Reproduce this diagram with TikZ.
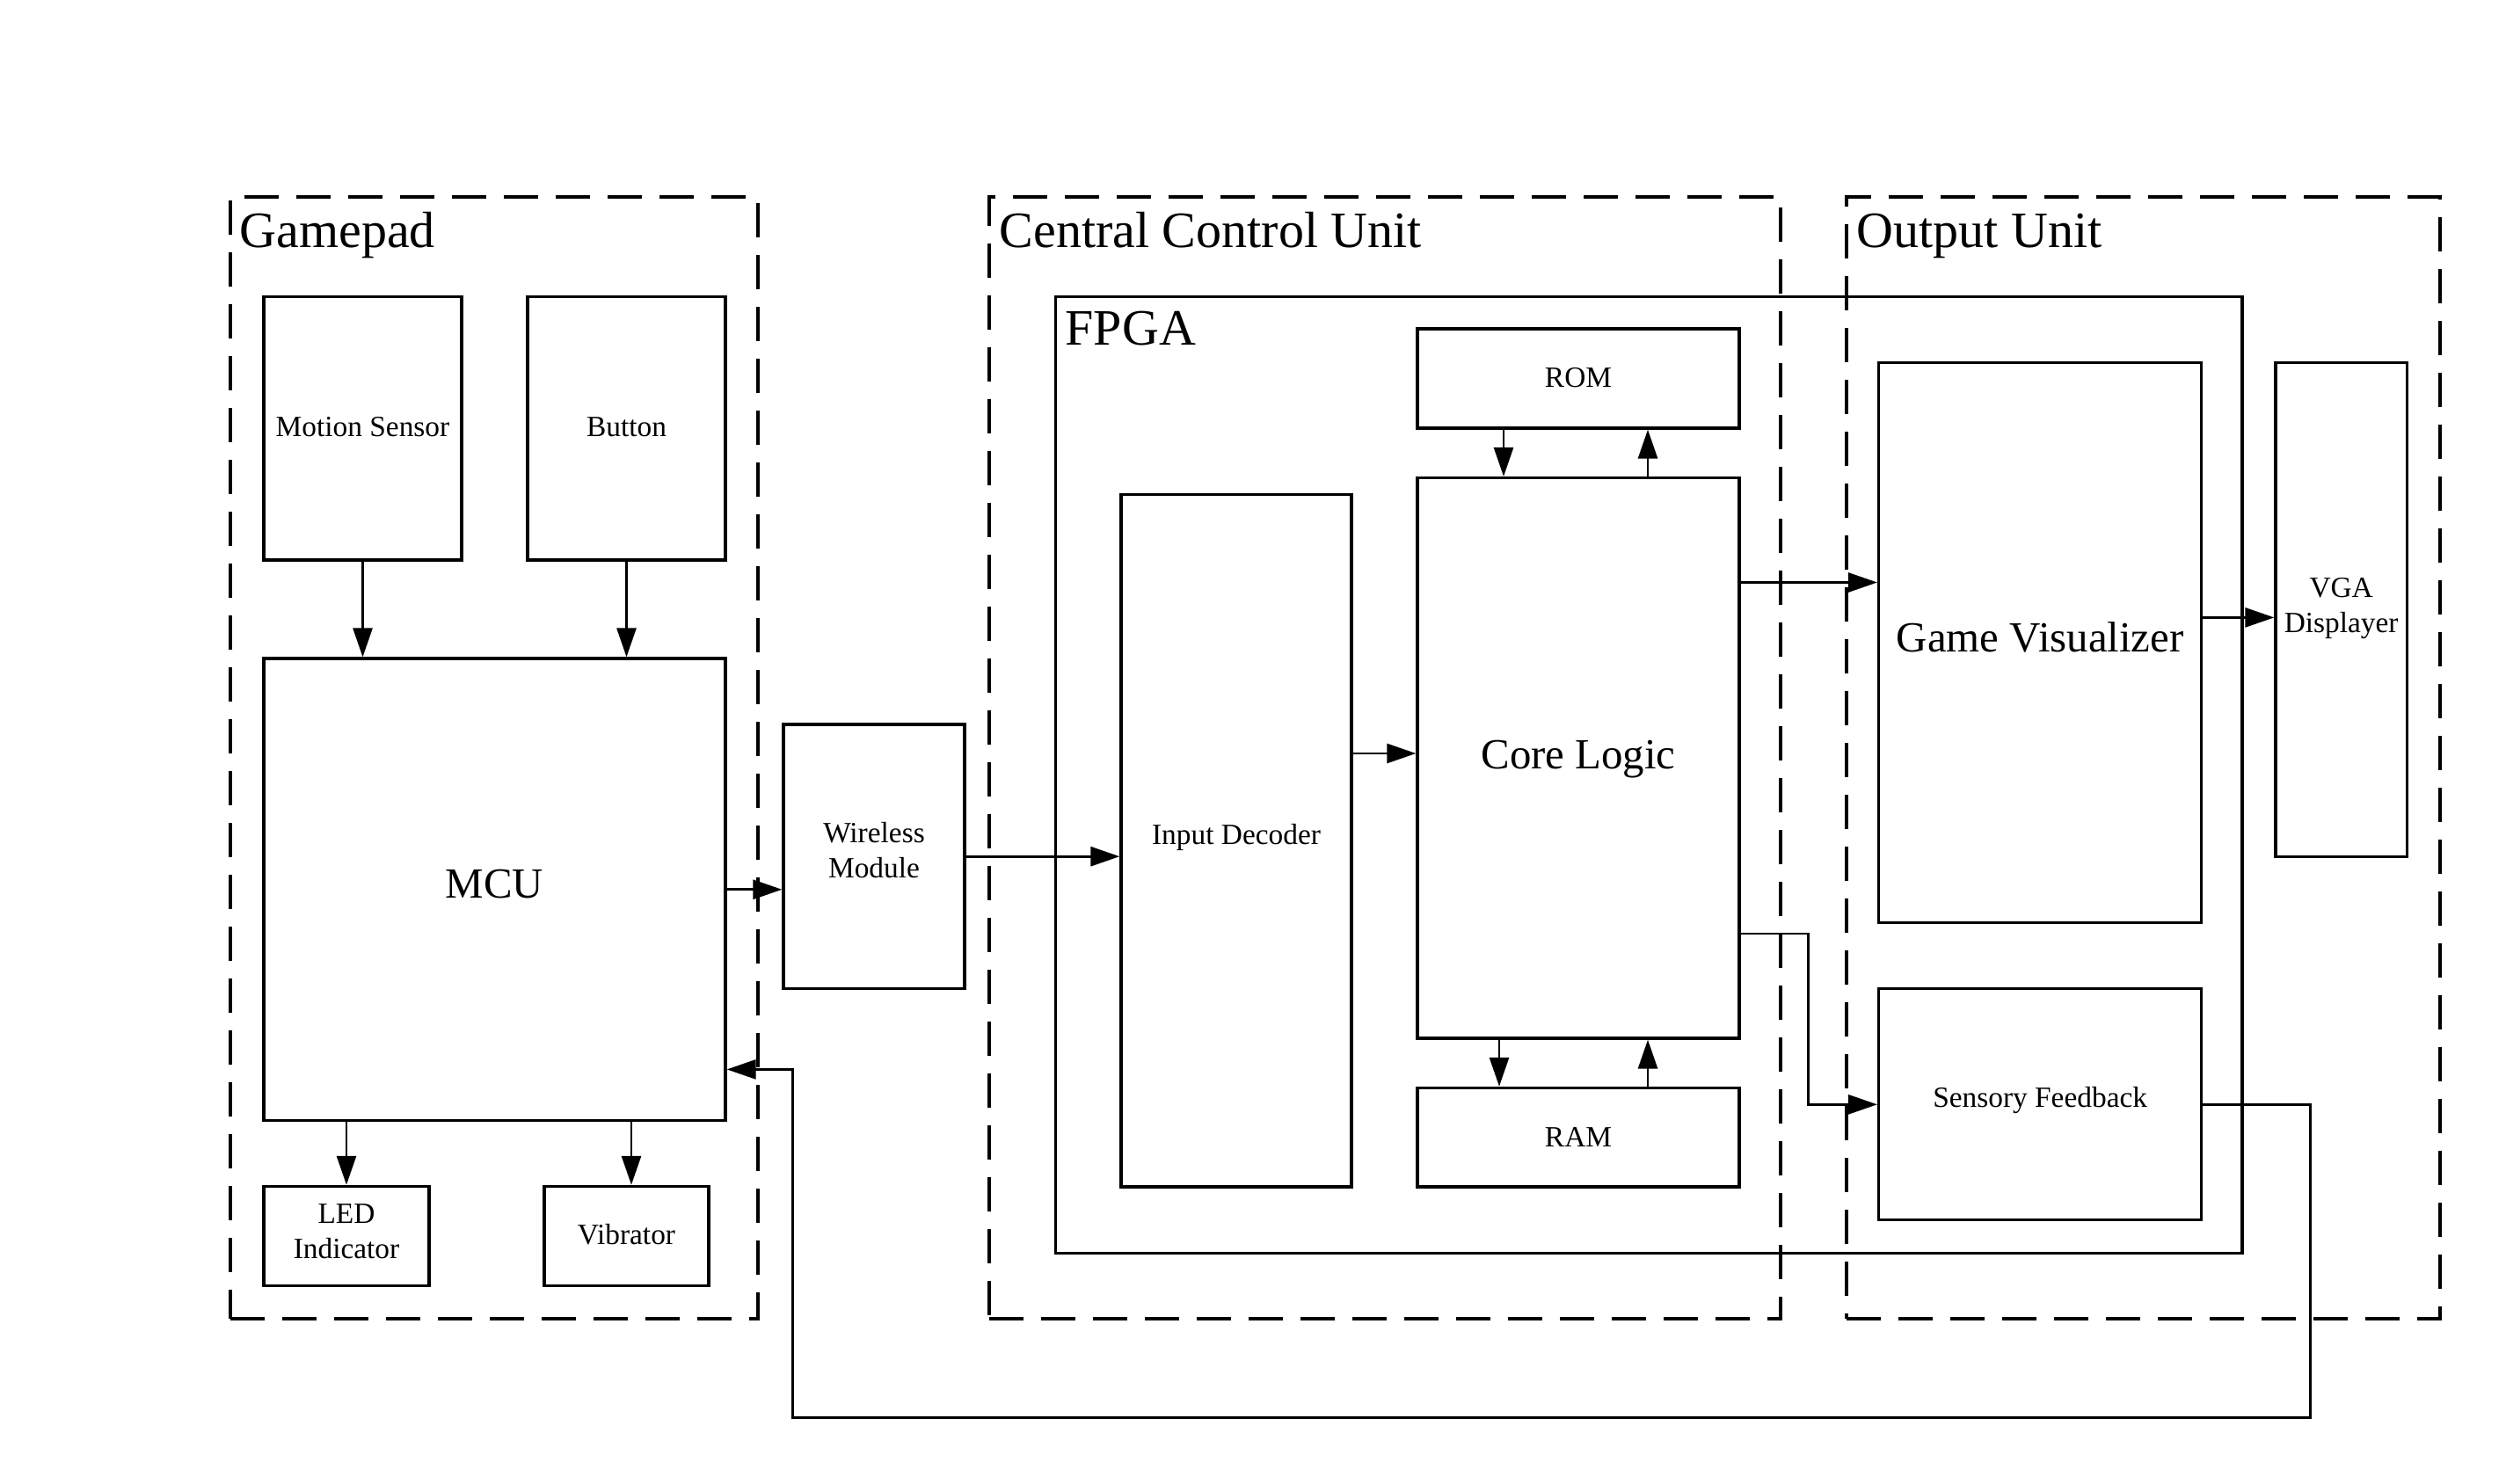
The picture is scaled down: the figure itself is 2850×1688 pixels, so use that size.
\documentclass[tikz,border=0pt]{standalone}
\usepackage{fontspec}
\setmainfont{Liberation Serif}
\usetikzlibrary{arrows.meta,fit}
\begin{document}
\begin{tikzpicture}[x=0.1mm,y=-0.1mm,
  box/.style={draw, line width=0.33mm, inner sep=0pt},
  txt/.style={anchor=base, inner sep=0pt, align=center, font=\fontsize{9.5}{11.4}\selectfont},
  bigtxt/.style={anchor=base, inner sep=0pt, font=\fontsize{13.9}{16.7}\selectfont},
  group/.style={draw, line width=0.4mm, dash pattern=on 3.9mm off 2mm, inner sep=0pt},
  title/.style={anchor=base west, inner sep=0pt, font=\fontsize{16.5}{19.8}\selectfont},
  arr/.style={line width=0.28mm, -{Triangle[length=3.3mm,width=2.2mm]}}]
\useasboundingbox (0,0) rectangle (2850,1688);
% groups
\node[group, fit={(262,224.4) (861.5,1499.5)}] (gp) {};
\node[group, fit={(1125,224.4) (2024.8,1499.5)}] (ccu) {};
\node[group, fit={(2100,224.4) (2774.5,1499.5)}] (ou) {};
\node[title] (gpt) at (272,282) {Gamepad};
\node[title] (ccut) at (1136,282) {Central Control Unit};
\node[title] (out) at (2111,282) {Output Unit};
% FPGA
\node[box, fit={(1200.5,337.5) (2550,1425.3)}] (fpga) {};
\node[title] (fpgat) at (1211,393) {FPGA};
% boxes
\node[box, fit={(300,337.5) (525,637)}] (ms) {};
\node[box, fit={(600,337.5) (825,637)}] (btn) {};
\node[box, fit={(300,749) (825,1274.6)}] (mcu) {};
\node[box, fit={(300,1349.4) (488,1462.4)}] (led) {};
\node[box, fit={(619,1349.4) (806,1462.4)}] (vib) {};
\node[box, fit={(891,824) (1097,1124.4)}] (wm) {};
\node[box, fit={(1275,562.4) (1537,1350)}] (id) {};
\node[box, fit={(1612,374) (1978,487)}] (rom) {};
\node[box, fit={(1612,543.6) (1978,1181)}] (core) {};
\node[box, fit={(1612,1237.4) (1978,1350)}] (ram) {};
\node[box, fit={(2136.6,412.8) (2503.7,1049.6)}] (gv) {};
\node[box, fit={(2136.6,1124.4) (2503.7,1387.6)}] (sf) {};
\node[box, fit={(2588,412.8) (2737.3,974.8)}] (vga) {};
% labels (baselines; last line for two-line labels)
\coordinate (b-ms) at (0,496.5);
\coordinate (b-mcu) at (0,1021);
\coordinate (b-led) at (0,1431.7);
\coordinate (b-vib) at (0,1415);
\coordinate (b-wm) at (0,998.3);
\coordinate (b-id) at (0,960);
\coordinate (b-rom) at (0,440.7);
\coordinate (b-core) at (0,874);
\coordinate (b-ram) at (0,1304);
\coordinate (b-gv) at (0,741.7);
\coordinate (b-sf) at (0,1259);
\coordinate (b-vga) at (0,719.3);
\node[txt] (ms-t) at (ms.center |- b-ms) {Motion Sensor};
\node[txt] (btn-t) at (btn.center |- b-ms) {Button};
\node[bigtxt] (mcu-t) at (mcu.center |- b-mcu) {MCU};
\node[txt] (led-t) at (led.center |- b-led) {LED\\Indicator};
\node[txt] (vib-t) at (vib.center |- b-vib) {Vibrator};
\node[txt] (wm-t) at (wm.center |- b-wm) {Wireless\\Module};
\node[txt] (id-t) at (id.center |- b-id) {Input Decoder};
\node[txt] (rom-t) at (rom.center |- b-rom) {ROM};
\node[bigtxt] (core-t) at (core.center |- b-core) {Core Logic};
\node[txt] (ram-t) at (ram.center |- b-ram) {RAM};
\node[bigtxt] (gv-t) at (gv.center |- b-gv) {Game Visualizer};
\node[txt] (sf-t) at (sf.center |- b-sf) {Sensory Feedback};
\node[txt] (vga-t) at (vga.center |- b-vga) {VGA\\Displayer};
% helper coordinates
\coordinate (xvib) at (718,0);
\coordinate (xromd) at (1710,0);
\coordinate (xup) at (1874,0);
\coordinate (xramd) at (1705,0);
\coordinate (yid) at (0,857);
\coordinate (ygv) at (0,662.5);
\coordinate (yvga) at (0,702.4);
\coordinate (ysf) at (0,1062);
\coordinate (c1) at (2056.6,1062);
\coordinate (c2) at (2056.6,1256.3);
\coordinate (f1) at (2627.3,1256.3);
\coordinate (f2) at (2627.3,1612.6);
\coordinate (f3) at (901.5,1612.6);
\coordinate (f4) at (901.5,1216.4);
% connectors
\draw[arr] (ms.south) -- (ms.south |- mcu.north);
\draw[arr] (btn.south) -- (btn.south |- mcu.north);
\draw[arr] (mcu.south -| led.north) -- (led.north);
\draw[arr] (mcu.south -| xvib) -- (vib.north -| xvib);
\draw[arr] (mcu.east) -- (mcu.east -| wm.west);
\draw[arr] (wm.east) -- (wm.east -| id.west);
\draw[arr] (id.east |- yid) -- (core.west |- yid);
\draw[arr] (rom.south -| xromd) -- (core.north -| xromd);
\draw[arr] (core.north -| xup) -- (rom.south -| xup);
\draw[arr] (core.south -| xramd) -- (ram.north -| xramd);
\draw[arr] (ram.north -| xup) -- (core.south -| xup);
\draw[arr] (core.east |- ygv) -- (gv.west |- ygv);
\draw[arr] (gv.east |- yvga) -- (vga.west |- yvga);
\draw[arr] (core.east |- ysf) -- (c1) -- (c2) -- (sf.west |- c2);
\draw[arr] (sf.east |- f1) -- (f1) -- (f2) -- (f3) -- (f4) -- (mcu.east |- f4);
\end{tikzpicture}
\end{document}
